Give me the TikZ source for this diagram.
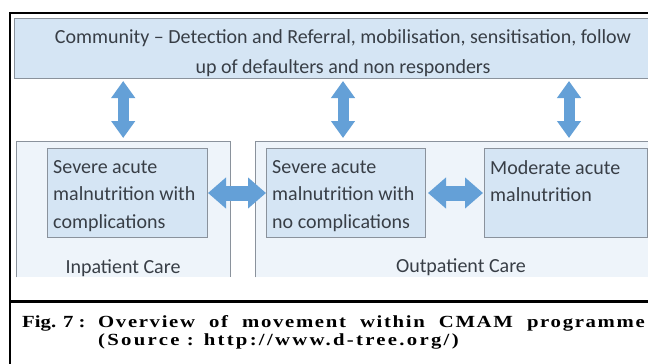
\documentclass[tikz,border=0pt]{standalone}
\usepackage{fontspec}
\setmainfont{Carlito}
\newfontfamily\capfont{Liberation Serif}
\usetikzlibrary{arrows.meta}

\definecolor{boxblue}{RGB}{213,229,244}
\definecolor{paleblue}{RGB}{238,244,250}
\definecolor{arrowblue}{RGB}{100,160,215}
\definecolor{edgegray}{RGB}{138,146,156}
\definecolor{textgray}{RGB}{56,62,70}

\tikzset{
  vfreccia/.style={arrowblue, line width=11pt, {Triangle[width=23pt,length=17pt]}-{Triangle[width=23pt,length=17pt]}},
  hfreccia/.style={arrowblue, line width=15pt, {Triangle[width=30pt,length=18pt]}-{Triangle[width=30pt,length=18pt]}},
  riquadro/.style={draw=edgegray, fill=boxblue, line width=1pt, rectangle, inner sep=0pt, anchor=north west},
  contenitore/.style={fill=paleblue, rectangle, inner sep=0pt, anchor=north west},
  testo/.style={font=\fontsize{20}{27.5}\selectfont, text=textgray, align=left, inner sep=0pt, anchor=north west},
  etichetta/.style={font=\fontsize{20}{24}\selectfont, text=textgray, inner sep=0pt},
  didascalia/.style={font=\capfont\bfseries\fontsize{17}{18}\selectfont, inner sep=0pt, anchor=base west},
}

\begin{document}
\begin{tikzpicture}[x=1pt,y=-1pt]
    \useasboundingbox (0,0) rectangle (648,364);
    \fill[white] (0,0) rectangle (648,364);

    % Cornice
    \draw[line width=2pt] (10,364) -- (10,13) -- (660,13);
    \draw[line width=3pt] (10,301) -- (660,301);

    % Comunita
    \node[riquadro, minimum width=646pt, minimum height=60pt] (comunita) at (14,18) {};
    \node[font=\fontsize{20}{30}\selectfont, text=textgray, align=center] (comtxt) at (343,53)
        {Community – Detection and Referral, mobilisation, sensitisation, follow\\up of defaulters and non responders};

    % Contenitori (senza bordo sotto)
    \node[contenitore, minimum width=214pt, minimum height=136pt] (inpaz) at (16,141) {};
    \draw[edgegray, line width=1pt] (inpaz.south west) -- (inpaz.north west) -- (inpaz.north east) -- (inpaz.south east);
    \node[contenitore, minimum width=405pt, minimum height=136pt] (outpaz) at (255,141) {};
    \draw[edgegray, line width=1pt] (outpaz.south west) -- (outpaz.north west) -- (outpaz.north east);

    % Riquadri interni
    \node[riquadro, minimum width=160pt, minimum height=89pt] (sam) at (47,148) {};
    \node[riquadro, minimum width=159pt, minimum height=89pt] (samno) at (266,148) {};
    \node[riquadro, minimum width=163pt, minimum height=89pt] (mam) at (484,148) {};

    \node[testo] (samtxt) at ([shift={(6,12)}]sam.north west) {Severe acute\\malnutrition with\\complications};
    \node[testo] (samnotxt) at ([shift={(6,12)}]samno.north west) {Severe acute\\malnutrition with\\no complications};
    \node[testo] (mamtxt) at ([shift={(6,12)}]mam.north west) {Moderate acute\\malnutrition};

    \node[etichetta] (inlab) at (123,268) {Inpatient Care};
    \node[etichetta] (outlab) at (461,267) {Outpatient Care};

    % Frecce verticali
    \draw[vfreccia] ([yshift=-2pt]comunita.south -| inpaz.north) -- ([yshift=3pt]inpaz.north);
    \draw[vfreccia] ([yshift=-2pt]comunita.south -| comtxt.south) -- ([yshift=3pt]outpaz.north -| comtxt.south);
    \draw[vfreccia] ([yshift=-2pt]comunita.south -| 569,0) -- ([yshift=3pt]outpaz.north -| 569,0);

    % Frecce orizzontali
    \draw[hfreccia] (sam.east) -- (samno.west);
    \draw[hfreccia] ([xshift=2pt]samno.east) -- ([xshift=-1pt]mam.west);

    % Didascalia (testo allargato)
    \node[didascalia] (figlab) at (22,327) {\scalebox{1.22}[1]{Fig. 7 :}};
    \node[didascalia] (figtit) at (98,327) {\scalebox{1.22}[1]{\addfontfeature{LetterSpace=8}\makebox[448pt][s]{Overview of movement within CMAM programme}}};
    \node[didascalia] (figsrc) at (98,345) {\scalebox{1.22}[1]{\addfontfeature{LetterSpace=11}(Source : http://www.d-tree.org/)}};
\end{tikzpicture}
\end{document}
